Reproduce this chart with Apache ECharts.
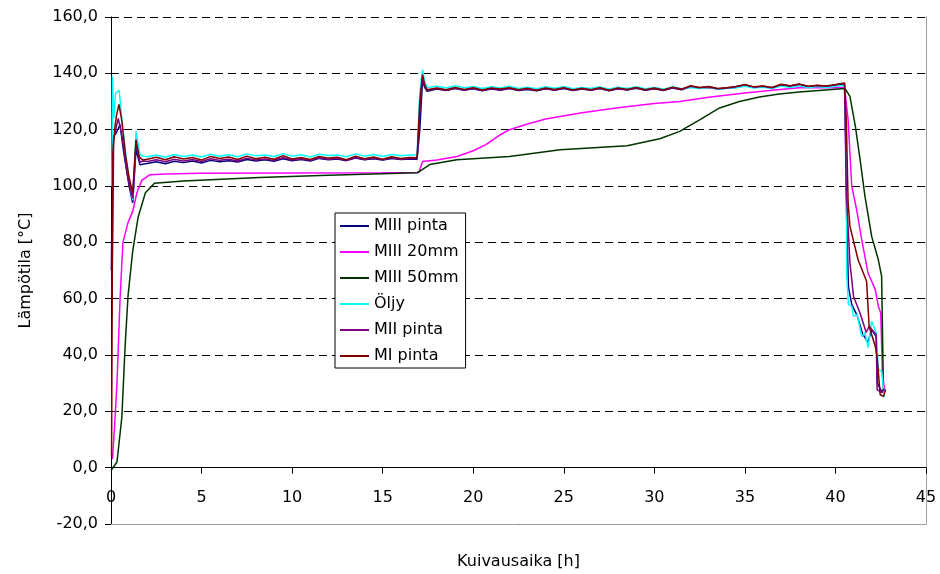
<!DOCTYPE html>
<html>
<head>
<meta charset="utf-8">
<script src="https://cdn.jsdelivr.net/npm/echarts@6/dist/echarts.min.js"></script>
<style>html,body{margin:0;padding:0;background:#fff}#c{width:940px;height:574px}</style>
</head>
<body>
<div id="c"></div>
<script>
// ---------- data ----------
const seriesNames = ['MIII pinta', 'MIII 20mm', 'MIII 50mm', 'Öljy', 'MII pinta', 'MI pinta'];
const seriesColors = ['#000080', '#FF00FF', '#003300', '#00FFFF', '#800080', '#800000'];

const xTicks = [0, 5, 10, 15, 20, 25, 30, 35, 40, 45];
const yTicks = [-20, 0, 20, 40, 60, 80, 100, 120, 140, 160];

// common sampling hours of the two plateaus
const hoursP1 = [2, 2.5, 3, 3.5, 4, 4.5, 5, 5.5, 6, 6.5, 7, 7.5, 8, 8.5, 9, 9.5, 10, 10.5, 11, 11.5, 12, 12.5, 13, 13.5, 14, 14.5, 15, 15.5, 16, 16.5];
const hoursP2 = [17.5, 18, 18.5, 19, 19.5, 20, 20.5, 21, 21.5, 22, 22.5, 23, 23.5, 24, 24.5, 25, 25.5, 26, 26.5, 27, 27.5, 28, 28.5, 29, 29.5, 30, 30.5, 31, 31.5, 32, 32.5, 33, 33.5, 34, 34.5, 35, 35.5, 36, 36.5, 37, 37.5, 38, 38.5, 39, 39.5, 40, 40.5];

// MIII pinta
const miiiPintaStart = [[0.02,70],[0.1,117],[0.3,119],[0.5,121.8],[0.7,112],[1.0,100],[1.2,94],[1.38,113],[1.6,107.5],[1.8,107.8]];
const miiiPintaP1 = [108.0,108.6,107.9,108.8,108.3,108.9,108.2,109.1,108.6,109.0,108.5,109.4,108.9,109.3,108.8,109.7,109.0,109.4,108.9,109.8,109.3,109.6,109.0,109.9,109.3,109.7,109.2,109.8,109.4,109.6];
const miiiPintaJump = [[16.9,109.5],[17.05,120],[17.2,137.5],[17.32,135],[17.45,133.6]];
const miiiPintaP2 = [133.8,134.4,133.9,134.6,134.0,134.5,133.8,134.4,134.0,134.6,133.9,134.3,133.8,134.5,134.0,134.6,133.9,134.4,134.0,134.6,133.8,134.5,134.1,134.7,134.0,134.5,133.9,134.8,134.2,135.2,134.8,135.0,134.4,134.7,135.0,135.7,135.0,135.3,134.8,135.8,135.4,136.0,135.2,135.6,135.3,135.8,136.2];
const miiiPintaEnd = [[40.56,118],[40.62,88],[40.72,64],[40.9,58],[41.2,54],[41.5,47.5],[41.8,44.5],[42.0,49],[42.25,46.5],[42.32,30],[42.55,27],[42.7,28]];

// MIII 20mm
const miii20mm = [[0.08,3],[0.2,15],[0.33,30],[0.5,60],[0.66,80],[0.94,87],[1.2,91],[1.43,97.6],[1.7,102],[2.15,104],[3,104.3],[5,104.5],[10,104.6],[15,104.7],[17.0,104.8],[17.2,108.7],[18,109.2],[19.1,110.5],[20,112.5],[20.7,114.7],[21.5,118.2],[22,120],[23,122],[24,123.8],[24.8,124.7],[26,126],[28,127.8],[30,129.3],[31.4,130],[33,131.5],[35,133],[36.5,134],[38,134.9],[40.5,135],[40.7,123.5],[40.9,99.9],[41.17,91.6],[41.45,81],[41.8,69.1],[42.2,63.2],[42.37,57.3],[42.5,54.9],[42.6,32.4],[42.74,27.1]];

// MIII 50mm
const miii50mm = [[0,-1],[0.33,2],[0.6,18],[0.77,42],[0.94,61],[1.2,77],[1.5,89],[1.9,97.6],[2.4,101],[4,101.8],[8.2,103],[12,103.8],[16.9,104.7],[17.1,105.5],[17.6,107.6],[19.1,109.3],[22,110.5],[24.8,112.9],[28.5,114.3],[30.3,116.8],[31.4,119.4],[32.5,123.5],[33.6,127.7],[34.7,130],[35.8,131.6],[36.9,132.7],[38,133.4],[40.53,134.6],[40.8,131.8],[41.1,121.2],[41.36,109.4],[41.63,96.3],[42.0,82.1],[42.37,73.8],[42.55,67.9],[42.65,26.5]];

// Öljy
const oljyStart = [[0.05,100],[0.08,139],[0.15,124],[0.25,133],[0.45,134],[0.55,127],[0.8,112],[1.0,102],[1.2,95],[1.38,119.4],[1.6,111],[1.8,110.6]];
const oljyP1 = [110.4,111.0,110.2,111.2,110.5,111.0,110.3,111.3,110.6,111.1,110.4,111.4,110.7,111.0,110.5,111.5,110.6,111.1,110.3,111.3,110.8,111.0,110.4,111.4,110.6,111.2,110.5,111.2,110.7,111.0];
const oljyJump = [[16.9,111],[17.05,133],[17.2,141.3],[17.32,137],[17.45,135]];
const oljyP2 = [135.0,135.4,134.8,135.6,134.9,135.3,134.6,135.2,134.8,135.4,134.6,135.1,134.5,135.2,134.7,135.3,134.5,135.0,134.6,135.2,134.4,135.1,134.6,135.2,134.5,135.0,134.4,135.2,134.5,135.0,134.6,135.1,134.3,134.8,134.9,135.4,134.8,135.1,134.6,135.5,135.0,135.6,134.9,135.3,135.0,135.4,135.8];
const oljyEnd = [[40.6,109],[40.62,68],[40.72,57.9],[40.9,57.3],[41.0,53.7],[41.2,54.3],[41.45,46.6],[41.63,48],[41.8,42.6],[42.0,52],[42.25,47.9],[42.37,34.8],[42.55,34.2],[42.7,25.3]];

// MII pinta
const miiPintaStart = [[0.05,60],[0.15,117],[0.4,124],[0.6,118],[0.9,104],[1.2,95.5],[1.38,115],[1.6,108.5],[1.8,108.9]];
const miiPintaP1 = [108.7,109.3,108.6,109.5,108.9,109.4,108.7,109.7,109.1,109.5,108.9,109.9,109.2,109.6,109.1,110.1,109.2,109.7,109.1,110.0,109.5,109.8,109.1,110.1,109.4,109.9,109.3,110.0,109.5,109.8];
const miiPintaJump = [[16.9,109.8],[17.05,126],[17.2,138.5],[17.32,135.5],[17.45,134]];
const miiPintaP2 = [133.9,134.6,134.0,134.8,134.1,134.7,133.9,134.6,134.2,134.7,134.0,134.5,133.9,134.6,134.1,134.8,134.0,134.5,134.1,134.7,133.9,134.6,134.2,134.9,134.1,134.6,134.0,134.9,134.3,135.4,134.9,135.2,134.5,134.8,135.2,135.9,135.1,135.4,134.9,136.0,135.5,136.1,135.3,135.7,135.4,135.9,136.4];
const miiPintaEnd = [[40.6,97.6],[40.8,72.8],[41.0,60.8],[41.35,55],[41.7,48],[41.86,50.2],[42.25,47.2],[42.3,27.7],[42.55,26.6],[42.7,28]];

// MI pinta
const miPintaStart = [[0.03,4],[0.1,112],[0.2,120],[0.3,125],[0.44,129],[0.6,123],[0.8,111],[1.0,103],[1.2,97.6],[1.38,116.5],[1.55,110.5],[1.75,109.2]];
const miPintaP1 = [109.5,110.2,109.3,110.4,109.6,110.1,109.2,110.5,109.8,110.3,109.4,110.6,109.7,110.2,109.5,110.8,109.6,110.1,109.4,110.5,109.9,110.2,109.3,110.6,109.7,110.3,109.5,110.4,109.8,110.1];
const miPintaJump = [[16.9,110.0],[17.05,130],[17.2,139.5],[17.32,136],[17.45,134.2]];
const miPintaP2 = [134.0,134.8,134.2,135.0,134.3,134.9,134.1,134.8,134.4,134.9,134.2,134.7,134.0,134.8,134.3,134.9,134.1,134.7,134.2,134.9,134.0,134.8,134.3,135.0,134.2,134.8,134.1,135.1,134.4,135.6,135.0,135.3,134.6,134.9,135.3,136.0,135.2,135.5,135.0,136.1,135.6,136.2,135.4,135.8,135.5,136.0,136.6];
const miPintaEnd = [[40.6,123.5],[40.7,94],[40.8,85.7],[41.25,73.8],[41.72,66.2],[41.86,50.2],[42.2,43],[42.3,39.5],[42.47,25.9],[42.65,25.3],[42.77,27.7]];

// ---------- assembly ----------
function zipHours(hours, vals) {
  const n = Math.min(hours.length, vals.length);
  const out = [];
  for (let i = 0; i < n; i++) out.push([hours[i], vals[i]]);
  return out;
}
function build(start, p1, jump, p2, end) {
  return [].concat(start, zipHours(hoursP1, p1), jump, zipHours(hoursP2, p2), end);
}
const seriesData = [
  build(miiiPintaStart, miiiPintaP1, miiiPintaJump, miiiPintaP2, miiiPintaEnd),
  miii20mm,
  miii50mm,
  build(oljyStart, oljyP1, oljyJump, oljyP2, oljyEnd),
  build(miiPintaStart, miiPintaP1, miiPintaJump, miiPintaP2, miiPintaEnd),
  build(miPintaStart, miPintaP1, miPintaJump, miPintaP2, miPintaEnd)
];

// ---------- layout ----------
const CHART_H = 574;
const GRID = { left: 111, right: 14, top: 17, bottom: 50 };
const yMin = yTicks[0], yMax = yTicks[yTicks.length - 1];
const plotH = CHART_H - GRID.top - GRID.bottom;
// move the labelled x axis up to the zero line of the y scale
const zeroOffset = -plotH * (0 - yMin) / (yMax - yMin);

const FONT = 'DejaVu Sans';
const chart = echarts.init(document.getElementById('c'), null, { renderer: 'canvas' });
chart.setOption({
  animation: false,
  backgroundColor: '#ffffff',
  textStyle: { fontFamily: FONT },
  grid: { left: GRID.left, right: GRID.right, top: GRID.top, bottom: GRID.bottom, containLabel: false, outerBoundsMode: 'none' },
  legend: {
    data: seriesNames,
    orient: 'vertical',
    left: 335,
    top: 213,
    icon: 'rect',
    itemWidth: 29,
    itemHeight: 2,
    itemGap: 10,
    padding: [5, 7, 4, 5],
    backgroundColor: '#ffffff',
    borderColor: '#000000',
    borderWidth: 1,
    borderRadius: 0,
    textStyle: { fontFamily: FONT, fontSize: 16, color: '#000' }
  },
  xAxis: [
    {
      // frame line along the bottom of the plot (value -20)
      type: 'value',
      position: 'bottom',
      min: xTicks[0],
      max: xTicks[xTicks.length - 1],
      axisLine: { show: true, onZero: false, lineStyle: { color: '#a0a0a0', width: 1 } },
      axisTick: { show: false },
      axisLabel: { show: false },
      splitLine: { show: false }
    },
    {
      type: 'value',
      position: 'bottom',
      offset: zeroOffset,
      min: xTicks[0],
      max: xTicks[xTicks.length - 1],
      interval: 5,
      name: 'Kuivausaika [h]',
      nameLocation: 'middle',
      nameGap: 86,
      nameTextStyle: { fontFamily: FONT, fontSize: 16, color: '#000' },
      axisLine: { show: true, onZero: false, lineStyle: { color: '#000', width: 1 } },
      axisTick: { show: true, inside: false, length: 6, lineStyle: { color: '#000' } },
      axisLabel: { margin: 22, fontFamily: FONT, fontSize: 16, color: '#000' },
      splitLine: { show: false }
    }
  ],
  yAxis: [
    {
      type: 'value',
      min: yMin,
      max: yMax,
      interval: 20,
      name: 'Lämpötila [°C]',
      nameLocation: 'middle',
      nameGap: 77,
      nameTextStyle: { fontFamily: FONT, fontSize: 16, color: '#000' },
      axisLine: { show: true, onZero: false, lineStyle: { color: '#000', width: 1 } },
      axisTick: { show: true, inside: false, length: 6, lineStyle: { color: '#000' } },
      axisLabel: {
        margin: 13, fontFamily: FONT, fontSize: 16, color: '#000',
        formatter: v => v.toFixed(1).replace('.', ',')
      },
      splitLine: { show: true, lineStyle: { color: '#000', type: [8, 5], width: 1 } }
    },
    {
      type: 'value',
      position: 'right',
      min: yMin,
      max: yMax,
      axisLine: { show: true, onZero: false, lineStyle: { color: '#a0a0a0', width: 1 } },
      axisTick: { show: false },
      axisLabel: { show: false },
      splitLine: { show: false }
    }
  ],
  series: seriesNames.map((name, i) => ({
    name: name,
    type: 'line',
    xAxisIndex: 1,
    yAxisIndex: 0,
    data: seriesData[i],
    symbol: 'none',
    showSymbol: false,
    smooth: false,
    color: seriesColors[i],
    lineStyle: { color: seriesColors[i], width: 1.5 },
    emphasis: { disabled: true }
  }))
});
</script>
</body>
</html>
